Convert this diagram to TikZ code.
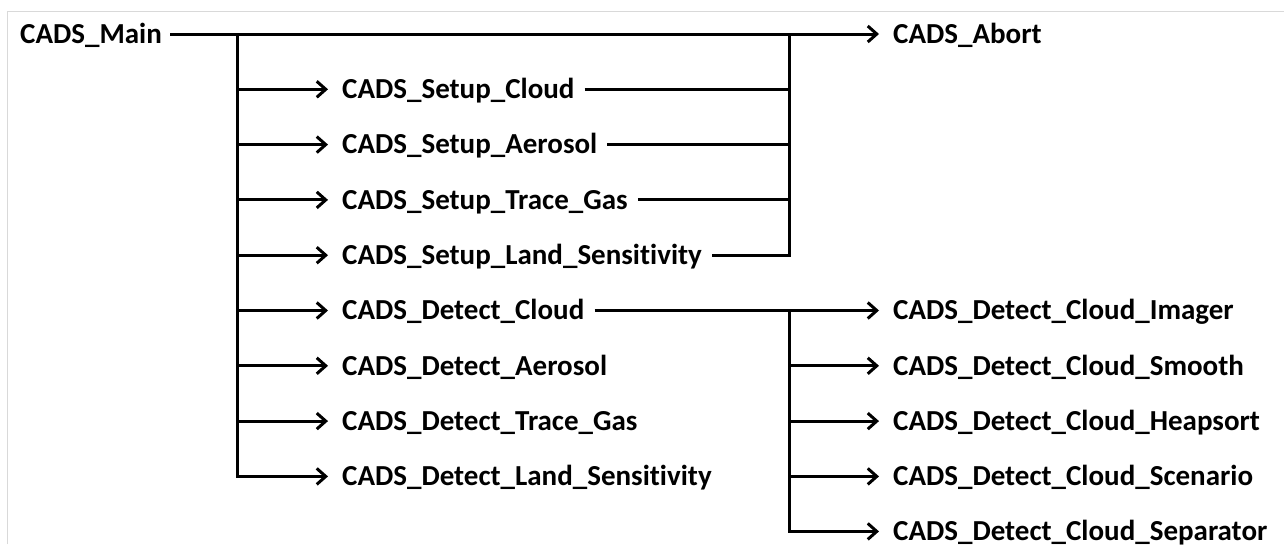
\documentclass[tikz,border=0pt]{standalone}
\usepackage{fontspec}
\setmainfont{Carlito}[Ligatures={NoCommon}]
\usetikzlibrary{arrows.meta}
\begin{document}
\begin{tikzpicture}[x=1pt,y=-1pt,
  lbl/.style={anchor=west,inner sep=0pt,text height=18.6pt,text depth=0pt,
    font=\fontsize{29}{31}\selectfont\bfseries},
  conn/.style={line width=3pt,draw=black},
  arr/.style={conn,-{Straight Barb[length=9pt,width=16pt,line width=3pt]}}]
\useasboundingbox (0,0) rectangle (1284,544);
\draw[black!15,line width=1pt] (7,544) -- (7,11) -- (1284,11);
% rows
\node[lbl] (main) at (20,34) {CADS\_Main};
\node[lbl] (abort) at (893,34) {CADS\_Abort};
\node[lbl] (scloud) at (342,89.3) {CADS\_Setup\_Cloud};
\node[lbl] (saero) at (342,144.6) {CADS\_Setup\_Aerosol};
\node[lbl] (strace) at (342,199.9) {CADS\_Setup\_Trace\_Gas};
\node[lbl] (sland) at (342,255.2) {CADS\_Setup\_Land\_Sensitivity};
\node[lbl] (dcloud) at (342,310.5) {CADS\_Detect\_Cloud};
\node[lbl] (daero) at (342,365.8) {CADS\_Detect\_Aerosol};
\node[lbl] (dtrace) at (342,421.1) {CADS\_Detect\_Trace\_Gas};
\node[lbl] (dland) at (342,476.4) {CADS\_Detect\_Land\_Sensitivity};
\node[lbl] (imager) at (893,310.5) {CADS\_Detect\_Cloud\_Imager};
\node[lbl] (smooth) at (893,365.8) {CADS\_Detect\_Cloud\_Smooth};
\node[lbl] (heap) at (893,421.1) {CADS\_Detect\_Cloud\_Heapsort};
\node[lbl] (scen) at (893,476.4) {CADS\_Detect\_Cloud\_Scenario};
\node[lbl] (sep) at (893,531.4) {CADS\_Detect\_Cloud\_Separator};
\coordinate (trunk) at (237,34);
\coordinate (join) at (789,34);
% main line to abort
\draw[arr] ([xshift=8pt]main.east) -- ([xshift=-14pt]abort.west);
% left trunk
\draw[arr] (trunk) |- ([xshift=-14pt]dland.west);
\foreach \n in {scloud,saero,strace,sland,dcloud,daero,dtrace}
  \draw[arr] (trunk |- \n.west) -- ([xshift=-14pt]\n.west);
% setup returns
\draw[conn] ([xshift=10pt]sland.east) -| (join);
\foreach \n in {scloud,saero,strace}
  \draw[conn] ([xshift=10pt]\n.east) -- (join |- \n.east);
% detect cloud
\draw[arr] ([xshift=10pt]dcloud.east) -- ([xshift=-14pt]imager.west);
\draw[arr] (join |- imager.west) |- ([xshift=-14pt]sep.west);
\foreach \n in {smooth,heap,scen}
  \draw[arr] (join |- \n.west) -- ([xshift=-14pt]\n.west);
\end{tikzpicture}
\end{document}
